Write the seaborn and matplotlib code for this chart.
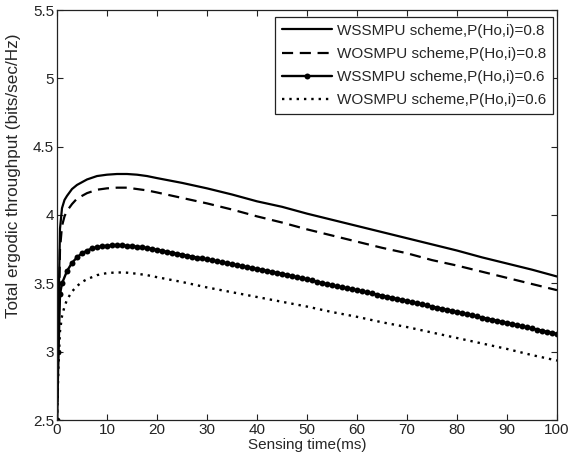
import seaborn as sns
import matplotlib.pyplot as plt

# sensing time (ms) sample points for the plain curves
time_ms = [0, 0.3, 0.6, 1, 1.5, 2, 3, 4, 5, 6, 8, 10, 12, 14, 16, 18, 20,
           25, 30, 35, 40, 45, 50, 55, 60, 65, 70, 75, 80, 85, 90, 95, 100]

wssmpu_08 = [2.5, 3.3, 3.9, 4.05, 4.11, 4.14, 4.19, 4.22, 4.24, 4.26, 4.285, 4.295, 4.30, 4.30, 4.295, 4.285, 4.27,
             4.235, 4.195, 4.15, 4.10, 4.06, 4.01, 3.965, 3.92, 3.875, 3.83, 3.785, 3.74, 3.69, 3.645, 3.60, 3.55]
wosmpu_08 = [2.5, 3.1, 3.75, 3.92, 3.99, 4.03, 4.08, 4.12, 4.14, 4.16, 4.185, 4.195, 4.20, 4.20, 4.19, 4.18, 4.165,
             4.125, 4.085, 4.04, 3.99, 3.945, 3.895, 3.85, 3.805, 3.76, 3.72, 3.67, 3.63, 3.585, 3.54, 3.495, 3.45]
wosmpu_06 = [2.5, 2.9, 3.15, 3.26, 3.33, 3.38, 3.44, 3.48, 3.51, 3.53, 3.56, 3.575, 3.58, 3.578, 3.57, 3.56, 3.545,
             3.51, 3.47, 3.435, 3.40, 3.365, 3.33, 3.29, 3.255, 3.215, 3.18, 3.14, 3.10, 3.06, 3.02, 2.975, 2.935]

# the marked curve is sampled every 1 ms (dense markers in the original)
time_ms_marked = [0, 0.3, 0.6] + list(range(1, 101))
wssmpu_06 = [2.5, 3.0, 3.42,
             3.50, 3.59, 3.65, 3.69, 3.72, 3.74, 3.755, 3.765, 3.77, 3.775,
             3.778, 3.78, 3.778, 3.775, 3.772, 3.768, 3.764, 3.759, 3.752, 3.745,
             3.738, 3.731, 3.724, 3.717, 3.71, 3.703, 3.696, 3.689, 3.682, 3.675,
             3.668, 3.661, 3.654, 3.647, 3.64, 3.633, 3.626, 3.619, 3.612, 3.605,
             3.598, 3.591, 3.584, 3.577, 3.57, 3.562, 3.553, 3.545, 3.537, 3.53,
             3.521, 3.512, 3.503, 3.494, 3.485, 3.478, 3.471, 3.464, 3.457, 3.45,
             3.442, 3.434, 3.426, 3.418, 3.41, 3.402, 3.394, 3.386, 3.378, 3.37,
             3.362, 3.354, 3.346, 3.338, 3.33, 3.322, 3.314, 3.306, 3.298, 3.29,
             3.282, 3.274, 3.266, 3.258, 3.25, 3.242, 3.234, 3.226, 3.218, 3.21,
             3.202, 3.194, 3.186, 3.178, 3.17, 3.162, 3.154, 3.146, 3.138, 3.13]

labels = ['WSSMPU scheme,P(Ho,i)=0.8', 'WOSMPU scheme,P(Ho,i)=0.8',
          'WSSMPU scheme,P(Ho,i)=0.6', 'WOSMPU scheme,P(Ho,i)=0.6']

sns.set_style("ticks")
plt.rcParams['font.family'] = ['Liberation Sans', 'DejaVu Sans']

fig = plt.figure(figsize=(5.71, 4.65), dpi=100)
ax = fig.add_axes([57 / 571, 45 / 465, 500 / 571, 410 / 465])

sns.lineplot(x=time_ms, y=wssmpu_08, ax=ax, color='black', linewidth=1.6, label=labels[0])
sns.lineplot(x=time_ms, y=wosmpu_08, ax=ax, color='black', linewidth=1.6,
             linestyle=(0, (5, 3)), label=labels[1])
sns.lineplot(x=time_ms_marked, y=wssmpu_06, ax=ax, color='black', linewidth=1.7,
             marker='o', markersize=4.3, markeredgewidth=0, label=labels[2])
sns.lineplot(x=time_ms, y=wosmpu_06, ax=ax, color='black', linewidth=1.7,
             linestyle=(0, (1, 2.1)), label=labels[3])

ax.set_xlim(0, 100)
ax.set_ylim(2.5, 5.5)
ax.set_xticks(range(0, 101, 10))
ax.set_yticks([2.5, 3, 3.5, 4, 4.5, 5, 5.5])
ax.set_yticklabels(['2.5', '3', '3.5', '4', '4.5', '5', '5.5'])
ax.tick_params(direction='in', length=4, width=0.8, top=True, right=True,
               labelsize=11, colors='#222222', pad=2)
for s in ax.spines.values():
    s.set_linewidth(0.9)
    s.set_color('#222222')

ax.set_xlabel('Sensing time(ms)', fontsize=11, labelpad=1)
ax.set_ylabel('Total ergodic throughput (bits/sec/Hz)', fontsize=12.3)
ax.yaxis.set_label_coords(-0.072, 0.595)

leg = ax.legend(loc='upper right', bbox_to_anchor=(0.992, 0.983), borderaxespad=0,
                fontsize=11, fancybox=False, framealpha=1, edgecolor='#222222',
                handlelength=3.3, handletextpad=0.3, labelspacing=0.6, borderpad=0.45)
leg.get_frame().set_linewidth(0.9)

fig.savefig('out.png', dpi=100)
